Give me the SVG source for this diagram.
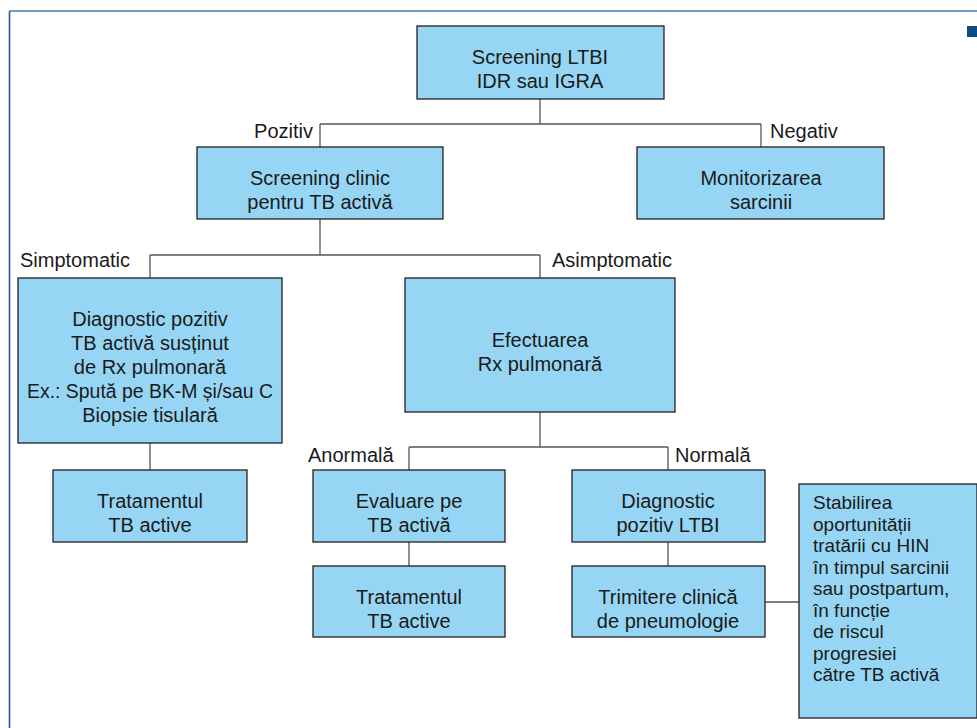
<svg xmlns="http://www.w3.org/2000/svg" width="977" height="728" viewBox="0 0 977 728">
<style>
.box{fill:#96d6f4;stroke:#231f20;stroke-width:1.3}
text{font-family:"Liberation Sans",Arial,sans-serif;font-size:20px;fill:#1a1a1a}
.c{text-anchor:middle}
.s{font-size:19px}
.con line{stroke:#555;stroke-width:1.3}
</style>
<rect width="977" height="728" fill="#fff"/>
<g id="frame">
<line x1="9.5" y1="11" x2="977" y2="11" stroke="#4a7bab" stroke-width="1.5"/>
<line x1="9.5" y1="11" x2="9.5" y2="728" stroke="#1f5a92" stroke-width="1.6"/>
<rect x="967" y="26" width="10" height="11" fill="#0b4a82"/>
</g>
<g class="con" id="connectors">
<line x1="540" y1="99" x2="540" y2="124"/>
<line x1="320" y1="124" x2="761" y2="124"/>
<line x1="320" y1="124" x2="320" y2="147"/>
<line x1="761" y1="124" x2="761" y2="147"/>
<line x1="320" y1="219" x2="320" y2="255"/>
<line x1="150" y1="255" x2="540" y2="255"/>
<line x1="150" y1="255" x2="150" y2="278"/>
<line x1="540" y1="255" x2="540" y2="278"/>
<line x1="150" y1="443" x2="150" y2="470"/>
<line x1="540" y1="412" x2="540" y2="447"/>
<line x1="409" y1="447" x2="668" y2="447"/>
<line x1="409" y1="447" x2="409" y2="470"/>
<line x1="668" y1="447" x2="668" y2="470"/>
<line x1="409" y1="542" x2="409" y2="566"/>
<line x1="668" y1="542" x2="668" y2="566"/>
<line x1="765" y1="602" x2="799" y2="602"/>
</g>
<g id="labels">
<text x="313" y="138" text-anchor="end">Pozitiv</text>
<text x="770" y="138">Negativ</text>
<text x="20" y="267">Simptomatic</text>
<text x="552" y="267">Asimptomatic</text>
<text x="308" y="462">Anormală</text>
<text x="675" y="462">Normală</text>
</g>
<g id="n1"><rect class="box" x="417" y="26" width="247" height="73"/>
<text class="c" x="540" y="64">Screening LTBI</text><text class="c" x="540" y="88">IDR sau IGRA</text></g>
<g id="n2"><rect class="box" x="197" y="147" width="246" height="72"/>
<text class="c" x="320" y="185">Screening clinic</text><text class="c" x="320" y="209">pentru TB activă</text></g>
<g id="n3"><rect class="box" x="637" y="147" width="247" height="72"/>
<text class="c" x="761" y="185">Monitorizarea</text><text class="c" x="761" y="209">sarcinii</text></g>
<g id="n4"><rect class="box" x="18" y="278" width="264" height="165"/>
<text class="c" x="150" y="326">Diagnostic pozitiv</text>
<text class="c" x="150" y="350">TB activă susținut</text>
<text class="c" x="150" y="374">de Rx pulmonară</text>
<text class="c" x="150" y="398" textLength="246" lengthAdjust="spacingAndGlyphs">Ex.: Spută pe BK-M și/sau C</text>
<text class="c" x="150" y="422">Biopsie tisulară</text></g>
<g id="n5"><rect class="box" x="405" y="278" width="270" height="134"/>
<text class="c" x="540" y="347">Efectuarea</text><text class="c" x="540" y="371">Rx pulmonară</text></g>
<g id="n6"><rect class="box" x="53" y="470" width="194" height="72"/>
<text class="c" x="150" y="508">Tratamentul</text><text class="c" x="150" y="532">TB active</text></g>
<g id="n7"><rect class="box" x="313" y="470" width="192" height="72"/>
<text class="c" x="409" y="508">Evaluare pe</text><text class="c" x="409" y="532">TB activă</text></g>
<g id="n8"><rect class="box" x="313" y="566" width="192" height="71"/>
<text class="c" x="409" y="604">Tratamentul</text><text class="c" x="409" y="628">TB active</text></g>
<g id="n9"><rect class="box" x="572" y="470" width="193" height="72"/>
<text class="c" x="668" y="508">Diagnostic</text><text class="c" x="668" y="532">pozitiv LTBI</text></g>
<g id="n10"><rect class="box" x="572" y="566" width="193" height="71"/>
<text class="c" x="668" y="604">Trimitere clinică</text><text class="c" x="668" y="628">de pneumologie</text></g>
<g id="n11"><rect class="box" x="799" y="484" width="178" height="234"/>
<text class="s" x="813" y="509">Stabilirea</text>
<text class="s" x="813" y="530.5">oportunității</text>
<text class="s" x="813" y="552">tratării cu HIN</text>
<text class="s" x="813" y="573.5">în timpul sarcinii</text>
<text class="s" x="813" y="595">sau postpartum,</text>
<text class="s" x="813" y="616.5">în funcție</text>
<text class="s" x="813" y="638">de riscul</text>
<text class="s" x="813" y="659.5">progresiei</text>
<text class="s" x="813" y="681">către TB activă</text></g>
</svg>
